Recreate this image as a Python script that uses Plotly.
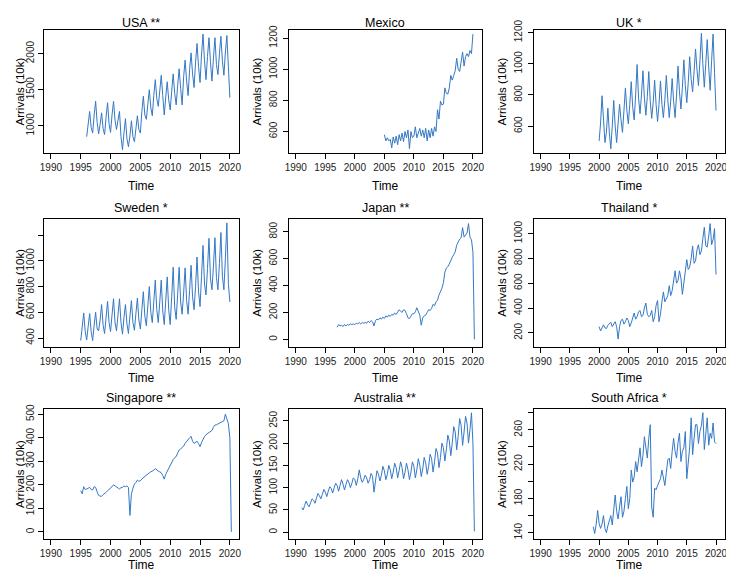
import plotly.graph_objects as go

# ---------------- data : quarterly arrivals (10k) ----------------

year_ticks = [1990, 1995, 2000, 2005, 2010, 2015, 2020]

usa_start = 1996.0
usa = [850, 1050, 1200, 980, 900, 1150, 1340, 1050, 890, 1020, 1180, 960,
       880, 1120, 1320, 1030, 910, 1150, 1340, 1080, 950, 1080, 1200, 850,
       670, 900, 1100, 820, 710, 860, 1070, 850, 780, 960, 1140, 950,
       900, 1200, 1410, 1150, 1090, 1300, 1500, 1250, 1140, 1420, 1640, 1380,
       1270, 1480, 1700, 1420, 1150, 1400, 1610, 1360, 1220, 1480, 1720, 1450,
       1290, 1560, 1790, 1520, 1290, 1680, 1910, 1620, 1420, 1780, 2010, 1720,
       1530, 1880, 2140, 1820, 1600, 1980, 2270, 1900, 1640, 1960, 2220, 1880,
       1620, 1940, 2220, 1850, 1710, 2000, 2240, 1900, 1700, 2020, 2250, 1820,
       1390]

mexico_start = 2005.0
mexico = [580, 540, 560, 540, 550, 495, 565, 525, 570, 515, 580, 540,
          590, 535, 600, 560, 610, 490, 600, 560, 570, 630, 560, 590,
          620, 570, 610, 560, 620, 540, 610, 560, 620, 570, 630, 600,
          740, 680, 795, 770, 775, 880, 845, 840, 880, 960, 930, 960,
          990, 1070, 1000, 985, 1060, 1110, 1020, 1080, 1100, 1080, 1120, 1100,
          1225]

uk_start = 2000.0
uk = [505, 620, 795, 600, 495, 560, 715, 560, 455, 600, 765, 600,
      495, 620, 740, 640, 560, 700, 845, 700, 615, 740, 885, 720,
      640, 800, 995, 780, 680, 800, 955, 780, 670, 790, 950, 760,
      650, 750, 895, 740, 630, 740, 890, 740, 655, 770, 925, 770,
      655, 760, 905, 760, 655, 800, 985, 820, 710, 850, 1025, 860,
      750, 880, 1045, 900, 820, 950, 1095, 960, 860, 1020, 1195, 1000,
      850, 1000, 1155, 980, 830, 1020, 1190, 945, 700]

sweden_start = 1995.0
sweden = [380, 500, 595, 450, 385, 490, 590, 450, 380, 500, 600, 470,
          455, 540, 660, 500, 435, 560, 685, 520, 450, 580, 705, 520,
          455, 580, 705, 520, 430, 560, 660, 510, 435, 570, 690, 520,
          460, 590, 710, 540, 470, 620, 760, 570, 495, 650, 800, 600,
          520, 680, 850, 620, 520, 680, 850, 610, 505, 690, 875, 620,
          505, 720, 950, 640, 545, 740, 950, 680, 585, 750, 945, 690,
          585, 770, 965, 720, 620, 800, 1030, 760, 645, 880, 1120, 820,
          735, 940, 1175, 860, 775, 960, 1180, 870, 775, 980, 1220, 880,
          775, 1020, 1295, 825, 680]

japan_start = 1997.0
japan = [90, 110, 100, 105, 95, 110, 100, 110, 105, 115, 110, 115,
         110, 120, 115, 125, 115, 125, 120, 125, 120, 135, 125, 140,
         130, 100, 140, 150, 145, 160, 150, 165, 155, 175, 165, 180,
         170, 185, 180, 195, 185, 200, 220, 210, 200, 220, 215, 190,
         160, 155, 170, 190, 190, 205, 235, 200, 180, 105, 160, 175,
         180, 200, 220, 215, 230, 260, 250, 280, 290, 330, 350, 380,
         420, 500, 530, 540, 560, 590, 610, 630, 650, 700, 730, 745,
         755, 830, 760, 780, 790, 860, 760, 740, 650, 0]

thailand_start = 2000.0
thailand = [250, 215, 240, 265, 240, 235, 260, 270, 285, 250, 270, 290,
            250, 150, 250, 300, 310, 270, 290, 320, 300, 250, 280, 320,
            360, 310, 330, 370, 380, 330, 340, 400, 440, 350, 330, 340,
            380, 290, 330, 420, 460, 290, 350, 450, 530, 450, 480, 500,
            580, 500, 540, 620, 700, 600, 620, 700, 640, 510, 620, 720,
            790, 710, 730, 800, 900, 760, 780, 870, 910, 830, 860, 960,
            1050, 900, 890, 980, 1080, 910, 950, 1040, 670]

singapore_start = 1995.0
singapore = [175, 162, 192, 180, 182, 185, 189, 180, 178, 192, 189, 170,
             155, 152, 151, 158, 162, 168, 175, 180, 186, 192, 200, 195,
             189, 185, 182, 188, 189, 195, 192, 195, 189, 70, 162, 185,
             203, 210, 220, 215, 217, 225, 231, 235, 242, 245, 251, 255,
             258, 262, 269, 262, 258, 255, 251, 240, 224, 245, 258, 270,
             279, 295, 307, 315, 320, 335, 348, 352, 358, 365, 376, 385,
             390, 400, 406, 385, 376, 380, 385, 375, 362, 380, 396, 405,
             413, 418, 424, 428, 431, 445, 454, 455, 459, 462, 465, 470,
             472, 500, 479, 460, 400, 0]

australia_start = 1991.0
australia = [55, 50, 60, 70, 62, 57, 66, 75, 72, 65, 76, 87,
             82, 75, 85, 96, 90, 80, 92, 102, 98, 88, 100, 110,
             105, 92, 105, 118, 108, 95, 107, 118, 112, 100, 110, 122,
             118, 105, 120, 140, 122, 112, 118, 128, 122, 110, 118, 132,
             125, 90, 115, 138, 130, 115, 128, 148, 138, 118, 130, 150,
             140, 120, 135, 155, 145, 122, 138, 158, 145, 120, 135, 155,
             140, 118, 135, 158, 148, 122, 140, 165, 150, 125, 142, 168,
             155, 130, 148, 175, 165, 135, 158, 188, 178, 145, 168, 200,
             190, 160, 185, 218, 205, 172, 200, 237, 225, 185, 215, 255,
             240, 195, 225, 260, 245, 200, 230, 268, 200, 2]

safrica_start = 1999.0
safrica = [147, 139, 150, 166, 151, 145, 150, 160, 145, 140, 148, 156,
           160, 149, 165, 184, 165, 156, 170, 182, 158, 165, 180, 194,
           168, 180, 213, 199, 205, 223, 211, 225, 239, 217, 230, 252,
           240, 227, 250, 266, 170, 158, 192, 190, 195, 200, 203, 213,
           205, 195, 210, 225, 227, 215, 235, 250, 235, 227, 245, 256,
           223, 235, 239, 258, 203, 223, 240, 274, 231, 250, 266, 266,
           244, 258, 265, 280, 237, 255, 274, 242, 256, 250, 268, 246,
           244]

titles = ['USA **', 'Mexico', 'UK *', 'Sweden *', 'Japan **', 'Thailand *',
          'Singapore **', 'Australia **', 'South Africa *']
series = [usa, mexico, uk, sweden, japan, thailand, singapore, australia, safrica]
starts = [usa_start, mexico_start, uk_start, sweden_start, japan_start,
          thailand_start, singapore_start, australia_start, safrica_start]

y_ticks = [[1000, 1500, 2000], [600, 800, 1000, 1200], [600, 800, 1000, 1200],
           [400, 600, 800, 1000, 1200], [0, 200, 400, 600, 800],
           [200, 400, 600, 800, 1000], [0, 100, 200, 300, 400, 500],
           [0, 50, 100, 150, 200, 250], [140, 160, 180, 200, 220, 240, 260, 280]]
y_labels = [['1000', '1500', '2000'], ['600', '800', '1000', '1200'],
            ['600', '800', '1000', '1200'], ['400', '600', '800', '1000', ''],
            ['0', '200', '400', '600', '800'], ['200', '400', '600', '800', '1000'],
            ['0', '100', '200', '300', '400', '500'], ['0', '50', '100', '150', '200', '250'],
            ['140', '', '180', '', '220', '', '260', '']]

# ---------------- layout (pixel geometry of the R-style 3x3 grid) ----------------
# the page body adds an 8px margin, so the figure is drawn 8px smaller and
# every window position is shifted back by OFF

OFF = 8
W, H = 734 - OFF, 575 - OFF
col_px = [(40, 237), (287, 482), (534, 727)]
row_px = [(20, 146), (213, 343), (407, 539)]
title_y = [13, 202, 396]
time_y = [179, 375, 566]
ylab_x = [16, 255, 502]          # first column pulled in so it isn't clipped
label_standoff = [0, 2, 2]
y_ranges = [[620, 2330], [460, 1253], [426, 1218], [334, 1325], [-53, 894],
            [90, 1117], [-29, 521], [-14.5, 276], [133, 284]]


def px(v, size):
    return (v - OFF) / size


font = 'Liberation Sans, Arial, sans-serif'
blue = '#3478c4'

fig = go.Figure()
annotations = []

for i in range(9):
    r, c = divmod(i, 3)
    x0, x1 = col_px[c]
    top, bot = row_px[r]
    n = '' if i == 0 else str(i + 1)
    vals = series[i]
    t = [starts[i] + k / 4 for k in range(len(vals))]

    fig.add_trace(go.Scatter(x=t, y=vals, mode='lines', line=dict(color=blue, width=1),
                             xaxis='x' + n, yaxis='y' + n, showlegend=False, hoverinfo='skip'))

    ax = dict(showline=True, mirror=True, linecolor='black', linewidth=1, showgrid=False,
              zeroline=False, ticks='outside', ticklen=5, tickcolor='black', tickwidth=1,
              tickfont=dict(family=font, size=10, color='#222'))
    fig.layout['xaxis' + n] = dict(ax, domain=[px(x0, W), px(x1, W)], range=[1988.8, 2021.55],
                                   tickvals=year_ticks, anchor='y' + n)
    fig.layout['yaxis' + n] = dict(ax, domain=[1 - px(bot, H), 1 - px(top, H)], range=y_ranges[i],
                                   tickvals=y_ticks[i], ticktext=y_labels[i], tickangle=-90,
                                   ticklabelstandoff=label_standoff[c], anchor='x' + n)

    xc = px((x0 + x1) / 2, W)
    annotations.append(dict(text=titles[i], x=xc, y=1 - px(title_y[r], H), xref='paper', yref='paper',
                            showarrow=False, xanchor='center', yanchor='middle',
                            font=dict(family=font, size=12.5, color='black')))
    annotations.append(dict(text='Time', x=xc, y=1 - px(time_y[r], H), xref='paper', yref='paper',
                            showarrow=False, xanchor='center', yanchor='middle',
                            font=dict(family=font, size=12, color='black')))
    annotations.append(dict(text='Arrivals (10k)', x=px(ylab_x[c], W), y=1 - px((top + bot) / 2, H),
                            xref='paper', yref='paper', showarrow=False, textangle=-90,
                            xanchor='center', yanchor='middle',
                            font=dict(family=font, size=11.5, color='black')))

fig.update_layout(width=W, height=H, margin=dict(l=0, r=0, t=0, b=0),
                  paper_bgcolor='white', plot_bgcolor='white', annotations=annotations)

fig.write_html("out.html")
